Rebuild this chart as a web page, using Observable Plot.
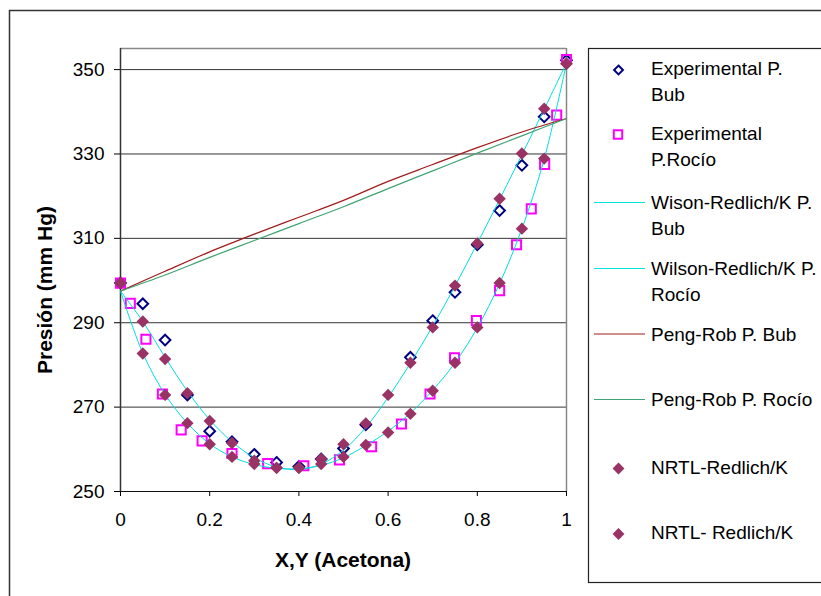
<!DOCTYPE html>
<html><head><meta charset="utf-8">
<script src="https://cdn.jsdelivr.net/npm/d3@7"></script>
<script src="https://cdn.jsdelivr.net/npm/@observablehq/plot@0.6"></script>
<style>
body{margin:0;background:#fff;}
#chart{position:relative;width:821px;height:596px;overflow:hidden;background:#fff}
</style>
</head><body><div id="chart"></div>
<script>
// ---- data ----
const xExpBub = [0, 0.05, 0.1, 0.15, 0.2, 0.25, 0.3, 0.35, 0.4, 0.45, 0.5, 0.55, 0.65, 0.7, 0.75, 0.8, 0.85, 0.9, 0.95, 1];
const pExpBub = [299.4, 294.5, 285.9, 272.9, 264.3, 261.8, 258.8, 256.9, 255.9, 257.7, 260.2, 265.8, 281.8, 290.5, 297.2, 308.5, 316.6, 327.3, 338.8, 352.2];

const xExpRoc = [0, 0.022, 0.057, 0.094, 0.136, 0.183, 0.25, 0.33, 0.411, 0.491, 0.563, 0.63, 0.694, 0.749, 0.798, 0.85, 0.888, 0.921, 0.951, 0.978, 1];
const pExpRoc = [299.4, 294.6, 286.1, 273.1, 264.6, 262.0, 259.0, 256.6, 256.1, 257.5, 260.6, 266.0, 273.1, 281.7, 290.5, 297.6, 308.5, 317.0, 327.5, 339.2, 352.4];

const xModel = [0, 0.05, 0.1, 0.15, 0.2, 0.25, 0.3, 0.35, 0.4, 0.45, 0.5, 0.55, 0.6, 0.65, 0.7, 0.75, 0.8, 0.85, 0.9, 0.95, 1];
const pWilsonBub = [297.5, 290.3, 281.8, 273.8, 267.0, 261.8, 258.0, 255.8, 255.2, 256.5, 259.8, 265.2, 272.3, 280.4, 289.2, 298.7, 308.8, 319.2, 329.8, 340.6, 351.6];
const pWilsonRoc = [297.5, 282.8, 273.0, 266.2, 261.3, 258.2, 256.4, 255.5, 255.4, 256.2, 258.0, 260.9, 264.3, 268.6, 274.0, 280.5, 288.8, 299.3, 312.3, 328.8, 351.5];
const pNrtlBub = [299.4, 290.3, 281.4, 273.3, 266.7, 261.5, 257.3, 255.6, 255.6, 257.7, 261.2, 266.1, 272.9, 280.5, 288.9, 298.8, 308.8, 319.4, 330.1, 340.7, 351.4];
const pNrtlRoc = [299.4, 282.7, 272.9, 266.2, 261.2, 258.2, 256.5, 255.6, 255.6, 256.5, 258.2, 261.0, 264.0, 268.4, 273.9, 280.5, 288.9, 299.4, 312.3, 328.9, 351.4];

const xPR = [0, 0.1, 0.2, 0.3, 0.4, 0.5, 0.6, 0.7, 0.8, 0.9, 1];
const pPRBub = [297.5, 302.2, 306.8, 311.0, 315.0, 319.0, 323.5, 327.5, 331.5, 335.2, 338.4];
const pPRRoc = [297.5, 301.3, 305.5, 309.5, 313.5, 317.5, 321.8, 326.0, 330.2, 334.3, 338.4];

const xTicks = [0, 0.2, 0.4, 0.6, 0.8, 1];
const xTickLabels = ["0", "0.2", "0.4", "0.6", "0.8", "1"];
const yTicks = [250, 270, 290, 310, 330, 350];
const yGrid = [270, 290, 310, 330, 350];

const xTitle = "X,Y (Acetona)";
const yTitle = "Presión (mm Hg)";
const legendItems = [
  {lines: ["Experimental P.", "Bub"], kind: "diamondOpen", color: "#000080"},
  {lines: ["Experimental", "P.Rocío"], kind: "square", color: "#ff00ff"},
  {lines: ["Wison-Redlich/K P.", "Bub"], kind: "line", color: "#00e0e0"},
  {lines: ["Wilson-Redlich/K P.", "Rocío"], kind: "line", color: "#00e0e0"},
  {lines: ["Peng-Rob P. Bub"], kind: "line", color: "#a01c1c"},
  {lines: ["Peng-Rob P. Rocío"], kind: "line", color: "#3fa474"},
  {lines: ["NRTL-Redlich/K"], kind: "diamond", color: "#993366"},
  {lines: ["NRTL- Redlich/K"], kind: "diamond", color: "#993366"}
];

// ---- build ----
const rows = (xs, ys) => xs.map((x, i) => ({x, y: ys[i]}));
const font = '"Liberation Sans", Arial, sans-serif';

const chart = Plot.plot({
  width: 821, height: 596,
  marginLeft: 120, marginRight: 255, marginTop: 48, marginBottom: 105,
  style: {fontFamily: font, fontSize: "19px", color: "#000", background: "white", overflow: "visible"},
  x: {domain: [0, 1], ticks: xTicks, tickFormat: d => xTickLabels[xTicks.indexOf(d)], tickSize: 5, tickPadding: 16, label: null},
  y: {domain: [250, 355], ticks: yTicks, tickSize: 6, tickPadding: 10, label: null},
  marks: [
    Plot.ruleY(yGrid, {stroke: "#333", strokeWidth: 1}),
    Plot.ruleY([355], {stroke: "#888", strokeWidth: 1.5}),
    Plot.ruleX([1], {stroke: "#888", strokeWidth: 1.5}),
    Plot.ruleX([0], {stroke: "#333", strokeWidth: 1.5}),
    Plot.ruleY([250], {stroke: "#111", strokeWidth: 1}),
    Plot.dot(rows(xExpBub, pExpBub), {x: "x", y: "y", symbol: "diamond2", r: 4.8, stroke: "#000080", strokeWidth: 2, fill: "none"}),
    Plot.dot(rows(xExpRoc, pExpRoc), {x: "x", y: "y", symbol: "square2", r: 5.8, stroke: "#ff00ff", strokeWidth: 2, fill: "none"}),
    Plot.line(rows(xModel, pWilsonBub), {x: "x", y: "y", stroke: "#00dede", strokeWidth: 1, curve: "catmull-rom"}),
    Plot.line(rows(xModel, pWilsonRoc), {x: "x", y: "y", stroke: "#00dede", strokeWidth: 1, curve: "catmull-rom"}),
    Plot.line(rows(xPR, pPRBub), {x: "x", y: "y", stroke: "#a01c1c", strokeWidth: 1.2, curve: "catmull-rom"}),
    Plot.line(rows(xPR, pPRRoc), {x: "x", y: "y", stroke: "#3fa474", strokeWidth: 1.2, curve: "catmull-rom"}),
    Plot.dot(rows(xModel, pNrtlBub), {x: "x", y: "y", symbol: "diamond2", r: 5.6, fill: "#993366", stroke: "none"}),
    Plot.dot(rows(xModel, pNrtlRoc), {x: "x", y: "y", symbol: "diamond2", r: 5.6, fill: "#993366", stroke: "none"})
  ]
});

const svg = d3.select(chart);
// outer chart border
svg.append("rect").attr("x", 9.5).attr("y", 10.5).attr("width", 1000).attr("height", 1000)
  .attr("fill", "none").attr("stroke", "#333").attr("stroke-width", 1.5);

// axis titles
svg.append("text").attr("transform", "translate(52,290) rotate(-90)")
  .attr("text-anchor", "middle").attr("font-weight", "bold").attr("font-size", 21)
  .attr("font-family", font).attr("fill", "#000").text(yTitle);
svg.append("text").attr("x", 343).attr("y", 567)
  .attr("text-anchor", "middle").attr("font-weight", "bold").attr("font-size", 21)
  .attr("font-family", font).attr("fill", "#000").text(xTitle);

// legend
const lg = svg.append("g").attr("font-family", font).attr("font-size", 19)
  .attr("fill", "#000").attr("text-anchor", "start");
lg.append("rect").attr("x", 588.5).attr("y", 48.5).attr("width", 400).attr("height", 534)
  .attr("fill", "white").attr("stroke", "#222").attr("stroke-width", 1.2);
const entryY = [68, 133.5, 202.5, 268.5, 334, 399.5, 467, 532.5];
legendItems.forEach((it, i) => {
  const cy = entryY[i];
  const g = lg.append("g");
  if (it.kind === "line") {
    g.append("line").attr("x1", 594).attr("x2", 645).attr("y1", cy).attr("y2", cy)
      .attr("stroke", it.color).attr("stroke-width", 1.2);
  } else if (it.kind === "diamondOpen") {
    g.append("path").attr("transform", `translate(618.5,${cy + 2})`)
      .attr("d", d3.symbol(d3.symbolDiamond2, 50)()).attr("fill", "none").attr("stroke", it.color).attr("stroke-width", 2);
  } else if (it.kind === "square") {
    g.append("path").attr("transform", `translate(618,${cy + 1})`)
      .attr("d", d3.symbol(d3.symbolSquare2, 90)()).attr("fill", "none").attr("stroke", it.color).attr("stroke-width", 2);
  } else {
    g.append("path").attr("transform", `translate(618.5,${cy + 1.5})`)
      .attr("d", d3.symbol(d3.symbolDiamond2, 90)()).attr("fill", it.color);
  }
  it.lines.forEach((t, j) => {
    g.append("text").attr("x", 651).attr("y", cy + j * 26).attr("dy", "0.35em")
      .attr("text-anchor", "start").text(t);
  });
});

document.getElementById("chart").appendChild(chart);
</script>
</body></html>
